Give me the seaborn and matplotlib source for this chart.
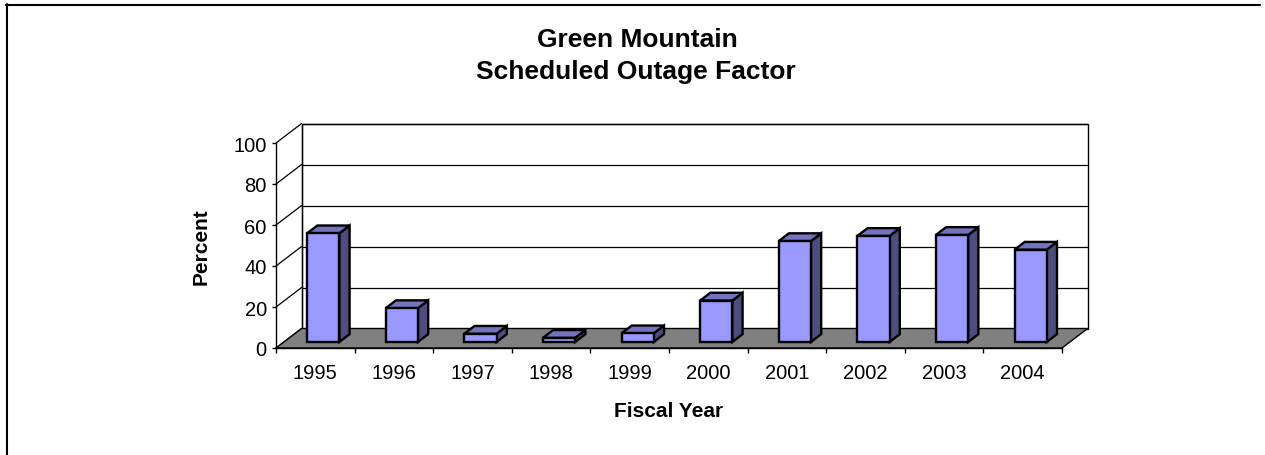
import numpy as np
import pandas as pd
import matplotlib
matplotlib.use("Agg")
import matplotlib.pyplot as plt
import matplotlib.transforms as mtransforms
from matplotlib.patches import Polygon
from matplotlib.lines import Line2D
import seaborn as sns

# ---- data ----
years = ["1995", "1996", "1997", "1998", "1999", "2000", "2001", "2002", "2003", "2004"]
outage_pct = [53, 16.5, 4, 2, 4.2, 20.2, 49.2, 51.7, 52.2, 45]
y_ticks = [0, 20, 40, 60, 80, 100]

title_line1 = "Green Mountain"
title_line2 = "Scheduled Outage Factor"
x_label = "Fiscal Year"
y_label = "Percent"

sns.set_style("white")
plt.rcParams["font.family"] = ["Liberation Sans", "DejaVu Sans"]
plt.rcParams["text.color"] = "black"
plt.rcParams["xtick.color"] = "black"
plt.rcParams["ytick.color"] = "black"
plt.rcParams["xtick.labelcolor"] = "black"
plt.rcParams["ytick.labelcolor"] = "black"

W, H = 1265, 456
DPI = 100
fig = plt.figure(figsize=(W / DPI, H / DPI), dpi=DPI)
fig.patch.set_facecolor("white")

# axes = front plane of the 3D box
ax = fig.add_axes([276 / W, (H - 349) / H, (1062 - 276) / W, (349 - 144) / H])
ax.set_facecolor("none")

df = pd.DataFrame({"year": years, "pct": outage_pct})
sns.barplot(data=df, x="year", y="pct", color="#9999FF", saturation=1,
            width=0.41, edgecolor="black", linewidth=1.7, ax=ax, zorder=3)

n = len(years)
ax.set_xlim(-0.5, n - 0.5)
ax.set_ylim(0, 100)
ax.set_yticks(y_ticks)
ax.set_xlabel("")
ax.set_ylabel("")
for s in ["top", "right"]:
    ax.spines[s].set_visible(False)
for s in ["left", "bottom"]:
    ax.spines[s].set_color("black")
    ax.spines[s].set_linewidth(1.0)
    ax.spines[s].set_zorder(1.5)

ax.tick_params(axis="y", which="major", direction="out", length=3, width=1,
               color="black", labelcolor="black", labelsize=14.5, pad=3.6, left=True)
ax.set_xticks(np.arange(n))
ax.set_xticklabels(years)
ax.set_xticks(np.arange(n + 1) - 0.5, minor=True)
ax.tick_params(axis="x", which="major", length=0, labelsize=14.5, pad=11,
               labelcolor="black")
ax.tick_params(axis="x", which="minor", direction="out", length=3.6, width=1,
               color="black", bottom=True)

# depth geometry (pixels)
DX, DY = 25.6, 19.5
F0, F1 = 0.31, 0.71

to_fig = fig.transFigure.inverted()


def P(x, y, f):
    d = ax.transData.transform((x, y)) + np.array([f * DX, f * DY])
    return to_fig.transform(d)


def poly(pts, fc, ec="black", lw=1.0, z=1.0):
    p = Polygon(np.array(pts), closed=True, facecolor=fc, edgecolor=ec, linewidth=lw,
                transform=fig.transFigure, clip_on=False, zorder=z, joinstyle="miter")
    ax.add_artist(p)


def line(a, b, color="black", lw=0.9, z=1.0):
    ln = Line2D([a[0], b[0]], [a[1], b[1]], color=color, linewidth=lw,
                transform=fig.transFigure, clip_on=False, zorder=z)
    ax.add_artist(ln)


x_lo, x_hi = -0.5, n - 0.5
# back wall
poly([P(x_lo, 0, 1), P(x_hi, 0, 1), P(x_hi, 100, 1), P(x_lo, 100, 1)], "white", lw=1.0, z=0.3)
# gridlines on back wall and left wall
for v in y_ticks:
    if v > 0:
        line(P(x_lo, v, 1), P(x_hi, v, 1), z=0.4)
    line(P(x_lo, v, 0), P(x_lo, v, 1), z=0.4)
line(P(x_lo, 0, 1), P(x_lo, 100, 1), z=0.4)
# floor
poly([P(x_lo, 0, 0), P(x_hi, 0, 0), P(x_hi, 0, 1), P(x_lo, 0, 1)], "#808080", lw=1.0, z=0.5)

# 3D bars: shift the front faces back and add side/top faces
off = mtransforms.ScaledTranslation(F0 * DX / DPI, F0 * DY / DPI, fig.dpi_scale_trans)
for p in ax.patches:
    if not hasattr(p, "get_height"):
        continue
    x0, w, h = p.get_x(), p.get_width(), p.get_height()
    p.set_transform(ax.transData + off)
    p.set_clip_on(False)
    x1 = x0 + w
    poly([P(x1, 0, F0), P(x1, h, F0), P(x1, h, F1), P(x1, 0, F1)], "#4D4D80", lw=1.7, z=2.9)
    poly([P(x0, h, F0), P(x1, h, F0), P(x1, h, F1), P(x0, h, F1)], "#7373BF", lw=1.7, z=2.9)

# texts
fig.text(637 / W, 1 - 40 / H, title_line1, ha="center", va="center",
         fontsize=19, fontweight="bold", color="black")
fig.text(636 / W, 1 - 72 / H, title_line2, ha="center", va="center",
         fontsize=19, fontweight="bold", color="black")
fig.text(669 / W, 1 - 412 / H, x_label, ha="center", va="center",
         fontsize=15, fontweight="bold", color="black")
fig.text(201 / W, 1 - 247 / H, y_label, ha="center", va="center",
         fontsize=15, fontweight="bold", rotation=90, color="black")

# outer border (left and top visible)
fig.add_artist(Line2D([6.5 / W, 6.5 / W], [0, 1 - 5 / H], color="black", linewidth=1.5,
                      transform=fig.transFigure))
fig.add_artist(Line2D([6 / W, 1260 / W], [1 - 5.5 / H, 1 - 5.5 / H], color="black",
                      linewidth=1.5, transform=fig.transFigure))

fig.savefig("out.png", dpi=DPI, facecolor="white")
